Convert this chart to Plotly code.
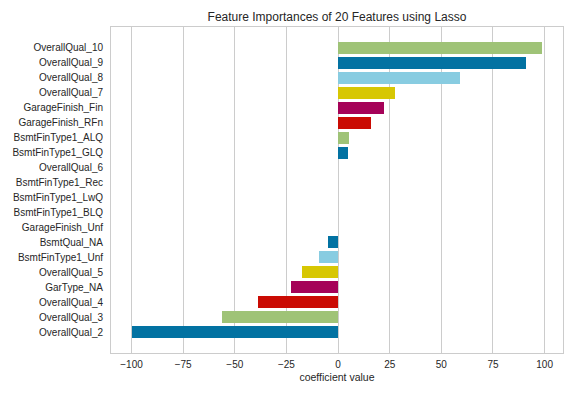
import plotly.graph_objects as go

features = [
    "OverallQual_2", "OverallQual_3", "OverallQual_4", "GarType_NA", "OverallQual_5",
    "BsmtFinType1_Unf", "BsmtQual_NA", "GarageFinish_Unf", "BsmtFinType1_BLQ",
    "BsmtFinType1_LwQ", "BsmtFinType1_Rec", "OverallQual_6", "BsmtFinType1_GLQ",
    "BsmtFinType1_ALQ", "GarageFinish_RFn", "GarageFinish_Fin", "OverallQual_7",
    "OverallQual_8", "OverallQual_9", "OverallQual_10",
]
importances = [
    -100.0, -56.2, -38.7, -22.8, -17.4,
    -9.2, -4.7, 0.0, 0.0,
    0.0, 0.0, 0.0, 4.8,
    5.3, 16.0, 22.3, 27.6,
    59.0, 91.0, 98.8,
]
x_ticks = [-100, -75, -50, -25, 0, 25, 50, 75, 100]

palette = ["#0272a2", "#9fc377", "#ca0b03", "#a50258", "#d7c703", "#88cce1"]
colors = [palette[i % len(palette)] for i in range(len(features))]
positions = list(range(len(features)))

fig = go.Figure(
    go.Bar(
        x=importances,
        y=positions,
        orientation="h",
        width=0.8,
        marker=dict(color=colors, line=dict(width=0)),
        hoverinfo="skip",
    )
)

font_family = "Liberation Sans, Arial, sans-serif"
fig.update_layout(
    width=576,
    height=396,
    margin=dict(l=111, r=13, t=27, b=43, autoexpand=False),
    paper_bgcolor="white",
    plot_bgcolor="white",
    font=dict(family=font_family, size=10, color="#262626"),
    title=dict(
        text="Feature Importances of 20 Features using Lasso",
        x=0.5, xref="paper", xanchor="center",
        y=1 - 17 / 396, yref="container", yanchor="middle",
        font=dict(size=12, color="#262626"),
    ),
    showlegend=False,
    bargap=0,
)

fig.update_xaxes(
    range=[-109.95, 108.9],
    tickvals=x_ticks,
    ticktext=[("\u2212" + str(abs(v))) if v < 0 else str(v) for v in x_ticks],
    showgrid=True, gridcolor="#cccccc", gridwidth=1,
    zeroline=False,
    showline=True, linecolor="#cccccc", linewidth=1, mirror=True,
    ticks="", ticklabelstandoff=2, automargin=False,
    title=dict(text="coefficient value", standoff=4, font=dict(size=10.5)),
)
fig.update_yaxes(
    range=[-1.39, 20.39],
    tickvals=positions,
    ticktext=features,
    showgrid=False,
    zeroline=False,
    showline=True, linecolor="#cccccc", linewidth=1, mirror=True,
    ticks="", ticklabelstandoff=5, automargin=False,
)

fig.write_html(
    "out.html",
    config={"displayModeBar": False},
    post_script="document.body.style.margin='0';document.body.style.overflow='hidden';",
)
